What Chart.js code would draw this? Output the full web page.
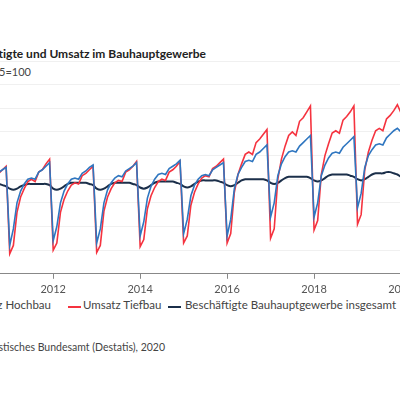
<!DOCTYPE html>
<html><head><meta charset="utf-8">
<script src="https://cdn.jsdelivr.net/npm/chart.js@4"></script>
<style>
body{margin:0;width:400px;height:400px;overflow:hidden;position:relative;background:#fff;font-family:"Lato",sans-serif;}
.t{position:absolute;white-space:nowrap;}
#wrap{position:absolute;left:-20px;top:0;width:440px;height:300px;}
.sw{position:absolute;width:13px;height:2px;top:306px;}
.lg{font-size:11.5px;color:#444;top:298px;}
</style></head><body>
<div class="t" style="right:194px;top:46px;font-size:12px;font-weight:bold;color:#222;">Beschäftigte und Umsatz im Bauhauptgewerbe</div>
<div class="t" style="right:369px;top:65px;font-size:11px;color:#444;">Index 2015=100</div>
<div class="t lg" style="right:349px;">Umsatz Hochbau</div>
<div class="sw" style="left:68px;background:#f5333f"></div>
<div class="t lg" style="left:83px;">Umsatz Tiefbau</div>
<div class="sw" style="left:168px;background:#1b2f4a"></div>
<div class="t lg" style="left:185px;">Beschäftigte Bauhauptgewerbe insgesamt</div>
<div class="t" style="right:235px;top:341px;font-size:10.5px;color:#444;">Quelle: Statistisches Bundesamt (Destatis), 2020</div>
<div id="wrap"><canvas id="c"></canvas></div>
<script>
const startYear = 2010.5; // July 2010, monthly
const yearTicks = [2012, 2014, 2016, 2018, 2020];
const tiefbau = [98,96,104,105,108,111,
37,44,72,85,92,98,100,98,106,108,113,117,
40,46,72,83,90,95,97,96,103,105,108,111,
38,44,73,85,92,97,99,98,106,108,111,115,
43,49,75,86,93,98,100,99,106,108,111,115,
46,52,78,89,96,101,103,102,109,111,114,117,
46,54,89,104,113,121,123,121,131,134,138,142,
50,58,100,117,128,137,140,137,149,152,157,162,
57,65,104,120,130,139,141,139,150,153,157,162,
62,70,108,123,133,141,143,141,151,154,158,163,
156,150,145];
const hochbau = [100,102,104,106,108,110,
44,58,80,90,96,100,101,100,106,108,111,114,
48,60,80,90,96,100,101,100,105,107,110,112,
46,58,80,91,97,101,103,102,107,109,111,114,
52,64,84,94,100,104,105,104,109,111,113,116,
54,66,86,95,100,103,104,103,108,110,112,114,
52,66,92,104,110,115,116,115,121,123,126,129,
68,80,103,113,119,123,124,123,128,131,134,137,
68,80,103,112,118,122,123,122,127,130,133,136,
76,88,110,120,125,129,130,129,135,138,141,143,
140,135,132];
const beschaeftigte = [96,96,96,96,95,94,
92,91,92,94,95,96,96,96,96,96,96,95,
92,91,92,94,96,97,97,97,97,97,96,95,
92,91,92,94,96,97,97,97,97,97,96,95,
93,92,93,95,97,98,98,98,98,98,97,96,
94,93,94,96,98,99,99,99,99,99,98,97,
95,94,95,97,99,100,100,100,100,100,100,99,
97,96,97,99,101,102,102,102,102,102,102,101,
99,98,99,101,103,104,104,104,104,104,103,102,
100,99,100,102,104,105,105,105,106,106,105,104,
102,100,99];
const pts = a => a.map((v,i)=>({x:startYear+i/12,y:v}));
new Chart(document.getElementById('c'),{
 type:'line',
 data:{datasets:[
  {label:'Umsatz Hochbau',data:pts(hochbau),borderColor:'#2f76c0',borderWidth:1.6,pointRadius:0},
  {label:'Umsatz Tiefbau',data:pts(tiefbau),borderColor:'#f5333f',borderWidth:1.6,pointRadius:0},
  {label:'Beschäftigte Bauhauptgewerbe insgesamt',data:pts(beschaeftigte),borderColor:'#1b2f4a',borderWidth:2,pointRadius:0,tension:0.4}
 ]},
 options:{responsive:true,maintainAspectRatio:false,animation:false,
  layout:{padding:{left:8,right:19,top:61,bottom:0}},
  plugins:{legend:{display:false},tooltip:{enabled:false}},
  scales:{
   x:{type:'linear',min:2010.5,max:2020,
    afterBuildTicks:s=>{s.ticks=yearTicks.map(v=>({value:v}));},
    ticks:{color:'#555',font:{size:11,family:'Lato'},padding:4,callback:v=>String(v)},
    grid:{drawOnChartArea:false,drawTicks:true,tickLength:5,color:'#888'},
    border:{color:'#888'}},
   y:{min:20,max:200,display:true,
    ticks:{display:false,stepSize:20},
    grid:{color:'#f0f0f0',drawTicks:false},border:{display:false}}
  }}
});
</script></body></html>
